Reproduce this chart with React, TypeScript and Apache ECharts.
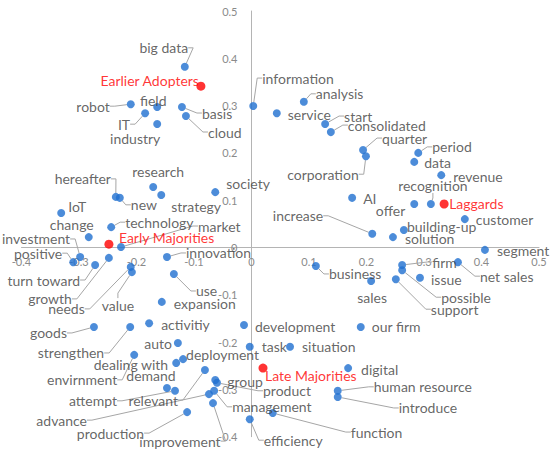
import React, { useEffect, useRef } from 'react';
import * as echarts from 'echarts';

// ---- data ----
const terms = [
  'big data', 'robot', 'field', 'IT', 'industry', 'basis', 'cloud', 'information', 'service', 'analysis',
  'start', 'consolidated', 'quarter', 'corporation', 'period', 'data', 'revenue', 'recognition', 'AI', 'offer',
  'customer', 'increase', 'building-up', 'solution', 'segment', 'firm', 'net sales', 'business', 'issue', 'possible',
  'support', 'sales', 'our firm', 'situation', 'task', 'development', 'digital', 'human resource', 'introduce', 'function',
  'efficiency', 'research', 'strategy', 'hereafter', 'new', 'society', 'IoT', 'change', 'technology', 'market',
  'investment', 'positive', 'turn toward', 'growth', 'needs', 'value', 'innovation', 'use', 'expansion', 'goods',
  'strengthen', 'activitiy', 'auto', 'envirnment', 'dealing with', 'deployment', 'relevant', 'demand', 'attempt', 'advance',
  'management', 'group', 'product', 'production', 'improvement',
];
const termX = [
  -0.116, -0.210, -0.164, -0.185, -0.164, -0.121, -0.114, 0.003, 0.044, 0.091,
  0.128, 0.138, 0.194, 0.199, 0.290, 0.283, 0.330, 0.312, 0.175, 0.283,
  0.371, 0.210, 0.265, 0.246, 0.406, 0.262, 0.359, 0.112, 0.293, 0.262,
  0.251, 0.208, 0.190, 0.067, -0.003, -0.013, 0.168, 0.150, 0.150, 0.037,
  -0.003, -0.171, -0.157, -0.236, -0.229, -0.063, -0.331, -0.283, -0.244, -0.227,
  -0.298, -0.310, -0.272, -0.248, -0.210, -0.208, -0.147, -0.135, -0.156, -0.274,
  -0.211, -0.178, -0.128, -0.204, -0.131, -0.119, -0.081, -0.147, -0.133, -0.074,
  -0.065, -0.063, -0.060, -0.112, -0.067,
];
const termY = [
  0.382, 0.303, 0.297, 0.284, 0.261, 0.297, 0.278, 0.299, 0.284, 0.308,
  0.261, 0.244, 0.206, 0.193, 0.200, 0.181, 0.153, 0.092, 0.105, 0.092,
  0.060, 0.029, 0.037, 0.022, -0.005, -0.037, -0.031, -0.039, -0.064, -0.048,
  -0.067, -0.071, -0.168, -0.210, -0.210, -0.164, -0.255, -0.303, -0.316, -0.350,
  -0.363, 0.128, 0.111, 0.107, 0.105, 0.117, 0.073, 0.022, 0.043, 0.001,
  -0.020, -0.031, -0.037, -0.022, -0.041, -0.052, -0.020, -0.056, -0.115, -0.168,
  -0.168, -0.160, -0.202, -0.227, -0.244, -0.236, -0.259, -0.297, -0.303, -0.310,
  -0.303, -0.280, -0.286, -0.348, -0.329,
];

const groupNames = ['Earlier Adopters', 'Early Majorities', 'Late Majorities', 'Laggards'];
const groupX = [-0.088, -0.248, 0.020, 0.335];
const groupY = [0.341, 0.007, -0.255, 0.092];

const axisMin = -0.4;
const axisMax = 0.5;
const axisStep = 0.1;

// ---- label placement (layout only): [align, dx, dy, leader line] ----
type Place = [string, number, number, boolean];
const placement: Record<string, Place> = {
  'big data': ['center', -21, -19, true],
  'robot': ['right', -21, 2, true],
  'field': ['center', -4, -7, false],
  'IT': ['right', -15, 11, true],
  'industry': ['center', -22, 14, false],
  'basis': ['left', 20, 6, true],
  'cloud': ['left', 22, 16, true],
  'information': ['left', 9, -28, true],
  'service': ['left', 11, 1, false],
  'analysis': ['left', 12, -8, true],
  'start': ['left', 19, -8, true],
  'consolidated': ['left', 17, -7, true],
  'quarter': ['left', 19, -12, true],
  'corporation': ['center', -43, 18, true],
  'period': ['left', 14, -6, true],
  'data': ['left', 10, 1, false],
  'revenue': ['left', 12, 1, false],
  'recognition': ['center', 2, -18, true],
  'AI': ['left', 11, 1, false],
  'offer': ['right', -9, 7, false],
  'customer': ['left', 11, 0, false],
  'increase': ['right', -49, -18, true],
  'building-up': ['left', 3, -3, false],
  'solution': ['left', 12, 1, false],
  'segment': ['left', 12, 1, false],
  'firm': ['left', 30, -3, true],
  'net sales': ['left', 22, 14, true],
  'business': ['left', 13, 8, true],
  'issue': ['left', 11, 2, false],
  'possible': ['left', 39, 27, true],
  'support': ['left', 35, 30, true],
  'sales': ['center', 1, 16, false],
  'our firm': ['left', 11, 0, false],
  'situation': ['left', 12, 0, false],
  'task': ['left', 12, 0, false],
  'development': ['left', 11, 1, false],
  'digital': ['left', 13, 1, false],
  'human resource': ['left', 36, -4, true],
  'introduce': ['left', 61, 11, true],
  'function': ['left', 78, 19, true],
  'efficiency': ['left', 14, 21, true],
  'research': ['center', 5, -15, false],
  'strategy': ['left', 10, 12, false],
  'hereafter': ['center', -33, -18, true],
  'new': ['left', 11, 7, true],
  'society': ['left', 11, -9, false],
  'IoT': ['left', 7, -6, false],
  'change': ['center', -17, -13, false],
  'technology': ['left', 14, -5, true],
  'market': ['left', 77, -21, true],
  'investment': ['right', -10, -18, true],
  'positive': ['right', -11, -9, true],
  'turn toward': ['right', -15, 15, true],
  'growth': ['right', -37, 41, true],
  'needs': ['right', -46, 42, true],
  'value': ['center', -14, 33, true],
  'innovation': ['left', 19, -4, true],
  'use': ['left', 22, 17, true],
  'expansion': ['left', 12, 2, false],
  'goods': ['right', -27, 6, true],
  'strengthen': ['right', -26, 26, true],
  'activitiy': ['left', 12, 1, false],
  'auto': ['right', -6, 0, false],
  'envirnment': ['right', -17, 25, true],
  'dealing with': ['right', -8, 2, false],
  'deployment': ['left', 3, -5, false],
  'relevant': ['right', -27, 30, true],
  'demand': ['center', -16, -12, false],
  'attempt': ['right', -58, 10, true],
  'advance': ['right', -122, 26, true],
  'management': ['left', 18, 16, true],
  'group': ['left', 12, 2, false],
  'product': ['left', 46, 8, true],
  'production': ['right', -43, 21, true],
  'improvement': ['center', -33, 38, true],
  'Earlier Adopters': ['right', -2, -6, false],
  'Early Majorities': ['left', 10, -7, false],
  'Late Majorities': ['left', 2, 7, false],
  'Laggards': ['left', 5, 0, false],
};

const FONT = 'Lato';
const LABEL_COLOR = '#404040';
const BLUE = '#1f6fd0';
const RED = '#ff0000';

const W = 550;
const H = 453;
const GRID = { left: 21.5, right: 11, top: 11, bottom: 16.3 };

function buildItems(names: string[], xs: number[], ys: number[]) {
  return names.map((n, i) => {
    const p = placement[n] || ['left', 10, 0, false];
    return {
      name: n,
      value: [xs[i], ys[i]],
      label: { align: p[0], offset: [p[1], p[2]] },
      labelLine: { show: p[3] },
    };
  });
}

const fmt = (v: number) => String(Math.round(v * 10) / 10);

export default function App() {
  const ref = useRef<HTMLDivElement>(null);
  useEffect(() => {
    if (!ref.current) return;
    const chart = echarts.init(ref.current, undefined, { renderer: 'svg' });
    const plotW = W - GRID.left - GRID.right;
    const plotH = H - GRID.top - GRID.bottom;
    const zeroFrac = (0 - axisMin) / (axisMax - axisMin);
    // move each axis (line + labels) from the grid edge to the other axis' zero
    const xOffset = -zeroFrac * plotH;
    const yOffset = -zeroFrac * plotW;
    const axisCommon = {
      type: 'value',
      min: axisMin,
      max: axisMax,
      interval: axisStep,
      splitLine: { show: false },
      axisTick: { show: false },
      axisLine: { show: true, onZero: false, lineStyle: { color: '#b4b4b4', width: 1 } },
    };
    const baseLabel = {
      show: true,
      formatter: '{b}',
      position: 'inside',
      verticalAlign: 'middle',
      fontFamily: FONT,
      fontSize: 14,
      textBorderWidth: 0,
    };
    chart.setOption({
      animation: false,
      backgroundColor: '#ffffff',
      grid: { ...GRID, containLabel: false, outerBoundsMode: 'none' },
      xAxis: {
        ...axisCommon,
        position: 'bottom',
        offset: xOffset,
        axisLabel: { formatter: fmt, color: '#8a8a8a', fontFamily: FONT, fontSize: 11, margin: 8 },
      },
      yAxis: {
        ...axisCommon,
        position: 'left',
        offset: yOffset,
        axisLabel: { formatter: fmt, color: '#8a8a8a', fontFamily: FONT, fontSize: 11, margin: 14 },
      },
      series: [
        {
          type: 'scatter',
          symbol: 'circle',
          symbolSize: 8,
          itemStyle: { color: BLUE },
          label: { ...baseLabel, color: LABEL_COLOR },
          labelLine: { show: true, length2: 5, lineStyle: { color: '#a6a6a6', width: 1 } },
          emphasis: { disabled: true },
          data: buildItems(terms, termX, termY),
        },
        {
          type: 'scatter',
          symbol: 'circle',
          symbolSize: 9,
          itemStyle: { color: RED },
          label: { ...baseLabel, color: RED },
          labelLine: { show: false },
          emphasis: { disabled: true },
          data: buildItems(groupNames, groupX, groupY),
        },
      ],
    });
    return () => chart.dispose();
  }, []);
  return (
    <div
      ref={ref}
      style={{ position: 'fixed', left: 0, top: 0, width: W, height: H, background: '#fff' }}
    />
  );
}
